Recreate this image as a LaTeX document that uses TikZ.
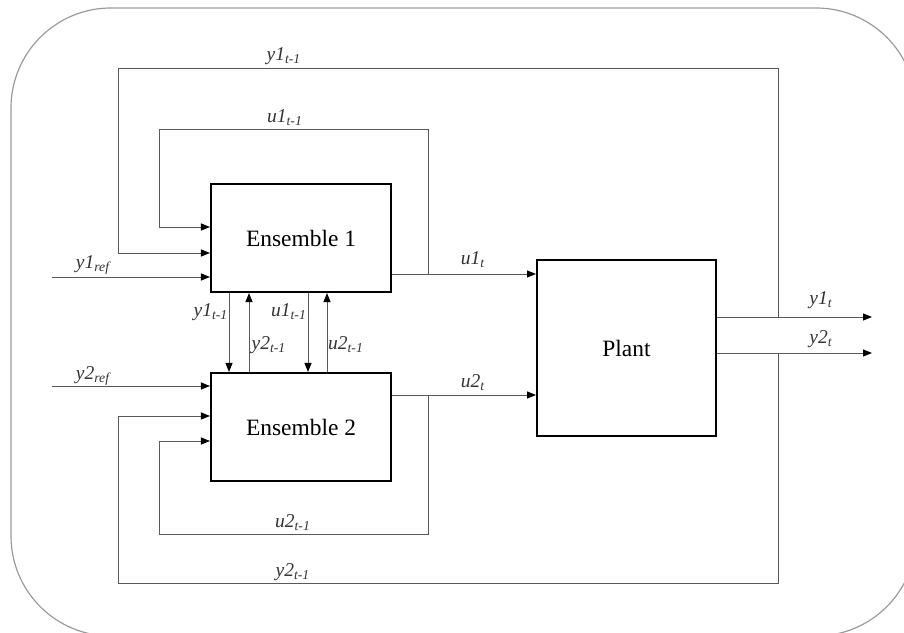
\documentclass[tikz,border=0pt]{standalone}
\usepackage{fontspec}
\setmainfont{Liberation Serif}
\usetikzlibrary{arrows.meta,positioning}

\tikzset{
  block/.style={draw=black, line width=1.1pt, inner sep=0pt,
    minimum width=3.24cm, minimum height=1.944cm,
    font=\fontsize{12}{14}\selectfont},
  wire/.style={draw=black!65, line width=0.5pt},
  feed/.style={wire, -{Triangle[length=4.6pt,width=3.6pt,color=black]}},
  sig/.style={font=\fontsize{10}{12}\selectfont\itshape, inner sep=0pt, text=black!80},
}

\begin{document}
\begin{tikzpicture}[x=0.018cm,y=-0.018cm]
  \useasboundingbox (0,0) rectangle (904,633);
  \begin{scope}
    \clip (0,0) rectangle (904,633);
    \draw[black!40, line width=0.6pt, rounded corners=1.8cm] (11,8) rectangle (916,636);
  \end{scope}

  % blocks
  \node[block] (E1) at (301,238) {Ensemble 1};
  \node[block] (E2) at (301,427) {Ensemble 2};
  \node[block, minimum width=3.22cm, minimum height=3.17cm] (P) at (626.5,348) {Plant};

  % free ends and junctions
  \coordinate (y1r) at (52,277);
  \coordinate (y2r) at (52,386);
  \coordinate (y1o) at (872,317);
  \coordinate (y2o) at (872,353);
  \coordinate (j1) at (778,317);
  \coordinate (j2) at (778,353);
  \coordinate (k1) at (428,274);
  \coordinate (k2) at (428,395);

  % references
  \draw[feed] (y1r) -- (E1.west |- y1r);
  \draw[feed] (y2r) -- (E2.west |- y2r);

  % controls to plant
  \draw[feed] (E1.east |- k1) -- (P.west |- k1);
  \draw[feed] (E2.east |- k2) -- (P.west |- k2);

  % plant outputs
  \draw[feed] (P.east |- y1o) -- (y1o);
  \draw[feed] (P.east |- y2o) -- (y2o);

  % outer feedback loops
  \draw[feed] (j1) |- (118,68) |- (E1.west |- 0,253);
  \draw[feed] (j2) |- (118,583) |- (E2.west |- 0,416);

  % inner feedback loops
  \draw[feed] (k1) |- (159,129) |- (E1.west |- 0,227);
  \draw[feed] (k2) |- (159,534) |- (E2.west |- 0,441);

  % cross links
  \draw[feed] (E1.south -| 229,0) -- (E2.north -| 229,0);
  \draw[feed] (E2.north -| 249,0) -- (E1.south -| 249,0);
  \draw[feed] (E1.south -| 308,0) -- (E2.north -| 308,0);
  \draw[feed] (E2.north -| 327,0) -- (E1.south -| 327,0);

  % labels
  \node[sig] (ly1top) at (284,56) {y1\textsubscript{t-1}};
  \node[sig] (lu1top) at (285,118) {u1\textsubscript{t-1}};
  \node[sig] (lu2bot) at (293,523) {u2\textsubscript{t-1}};
  \node[sig] (ly2bot) at (293,572) {y2\textsubscript{t-1}};
  \node[sig] (ly1ref) at (93,265) {y1\textsubscript{ref}};
  \node[sig] (ly2ref) at (93,376) {y2\textsubscript{ref}};
  \node[sig] (lu1) at (473,260) {u1\textsubscript{t}};
  \node[sig] (lu2) at (473,383) {u2\textsubscript{t}};
  \node[sig] (ly1) at (821,300) {y1\textsubscript{t}};
  \node[sig] (ly2) at (821,339) {y2\textsubscript{t}};
  \node[sig] (ly1x) at (211,312) {y1\textsubscript{t-1}};
  \node[sig] (lu1x) at (289,312) {u1\textsubscript{t-1}};
  \node[sig] (ly2x) at (269,345) {y2\textsubscript{t-1}};
  \node[sig] (lu2x) at (346,345) {u2\textsubscript{t-1}};
\end{tikzpicture}
\end{document}
